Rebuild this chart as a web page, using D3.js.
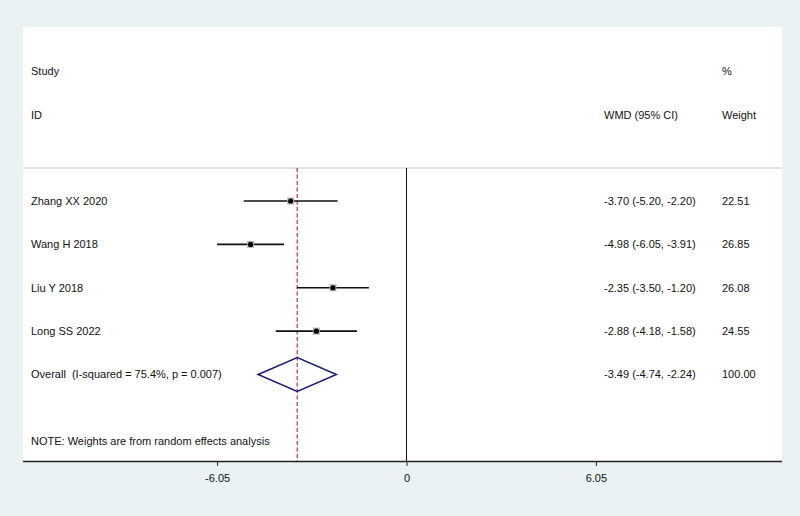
<!DOCTYPE html>
<html lang="en">
<head>
    <meta charset="UTF-8">
    <title>Forest plot</title>
    <script src="https://d3js.org/d3.v7.min.js"></script>
    <style>
        body { margin: 0; background: rgb(234, 242, 243); }
        text {
            font-family: "Liberation Sans", Arial, sans-serif;
            font-size: 11px;
            fill: #111;
            white-space: pre;
        }
        .axis path { stroke: #222; stroke-width: 1.6px; }
        .axis line { stroke: #222; stroke-width: 1px; }
        .axis text { font-size: 11px; }
    </style>
</head>
<body>
    <script>
        // Study data
        const studies = ["Zhang XX 2020", "Wang H 2018", "Liu Y 2018", "Long SS 2022"];
        const wmd = [-3.70, -4.98, -2.35, -2.88];
        const lower = [-5.20, -6.05, -3.50, -4.18];
        const upper = [-2.20, -3.91, -1.20, -1.58];
        const weights = [22.51, 26.85, 26.08, 24.55];

        // Pooled estimate
        const overallLabel = "Overall  (I-squared = 75.4%, p = 0.007)";
        const overall = [-3.49, -4.74, -2.24];
        const overallWeight = 100.00;

        const tickValues = [-6.05, 0, 6.05];

        const width = 800, height = 516;
        const panel = {left: 23, right: 782, top: 27, bottom: 461};

        const svg = d3.select("body")
            .append("svg")
            .attr("width", width)
            .attr("height", height);

        // white plot region
        svg.append("rect")
            .attr("x", panel.left)
            .attr("y", panel.top)
            .attr("width", panel.right - panel.left)
            .attr("height", panel.bottom - panel.top)
            .attr("fill", "white");

        const x = d3.scaleLinear()
            .domain([-6.05, 6.05])
            .range([217.1, 595.9]);

        const rows = studies.concat([overallLabel]);
        const y = d3.scalePoint()
            .domain(rows)
            .range([201, 374.5]);

        const headerLine = 168;

        // header
        svg.append("text").attr("x", 31).attr("y", 75).text("Study");
        svg.append("text").attr("x", 31).attr("y", 119).text("ID");
        svg.append("text").attr("x", 604).attr("y", 119).text("WMD (95% CI)");
        svg.append("text").attr("x", 722).attr("y", 75).text("%");
        svg.append("text").attr("x", 722).attr("y", 119).text("Weight");

        svg.append("line")
            .attr("x1", panel.left).attr("x2", panel.right)
            .attr("y1", headerLine).attr("y2", headerLine)
            .attr("stroke", "#c8c8c8")
            .attr("stroke-width", 1);

        // no-effect line
        svg.append("line")
            .attr("x1", x(0)).attr("x2", x(0))
            .attr("y1", headerLine).attr("y2", panel.bottom)
            .attr("stroke", "#111")
            .attr("stroke-width", 1);

        // pooled estimate line
        svg.append("line")
            .attr("x1", x(overall[0])).attr("x2", x(overall[0]))
            .attr("y1", headerLine).attr("y2", panel.bottom)
            .attr("stroke", "#c85a66")
            .attr("stroke-width", 1.5)
            .attr("stroke-dasharray", "4,2.5");

        const data = studies.map((s, i) => ({
            study: s, est: wmd[i], lo: lower[i], hi: upper[i], w: weights[i]
        }));

        // CI lines
        svg.selectAll("ciLine")
            .data(data)
            .enter()
            .append("line")
            .attr("x1", d => x(d.lo))
            .attr("x2", d => x(d.hi))
            .attr("y1", d => y(d.study))
            .attr("y2", d => y(d.study))
            .attr("stroke", "#111")
            .attr("stroke-width", 1.6);

        // weight boxes
        svg.selectAll("box")
            .data(data)
            .enter()
            .append("rect")
            .attr("x", d => x(d.est) - 3.5)
            .attr("y", d => y(d.study) - 3.5)
            .attr("width", 7)
            .attr("height", 7)
            .attr("fill", "#b4b4b4");

        // point estimates
        svg.selectAll("dot")
            .data(data)
            .enter()
            .append("circle")
            .attr("cx", d => x(d.est))
            .attr("cy", d => y(d.study))
            .attr("r", 2.6)
            .attr("fill", "#000");

        // labels
        svg.selectAll("studyLabel")
            .data(data)
            .enter()
            .append("text")
            .attr("x", 31)
            .attr("y", d => y(d.study))
            .attr("dy", ".35em")
            .text(d => d.study);

        const fmt = v => v.toFixed(2);
        svg.selectAll("ciLabel")
            .data(data)
            .enter()
            .append("text")
            .attr("x", 604)
            .attr("y", d => y(d.study))
            .attr("dy", ".35em")
            .text(d => `${fmt(d.est)} (${fmt(d.lo)}, ${fmt(d.hi)})`);

        svg.selectAll("wLabel")
            .data(data)
            .enter()
            .append("text")
            .attr("x", 722)
            .attr("y", d => y(d.study))
            .attr("dy", ".35em")
            .text(d => fmt(d.w));

        // overall diamond
        const oy = y(overallLabel);
        const dh = 17;
        svg.append("path")
            .attr("d", `M${x(overall[1])},${oy} L${x(overall[0])},${oy - dh} L${x(overall[2])},${oy} L${x(overall[0])},${oy + dh} Z`)
            .attr("fill", "none")
            .attr("stroke", "#1c1c78")
            .attr("stroke-width", 1.5);

        svg.append("text").attr("x", 31).attr("y", oy).attr("dy", ".35em").text(overallLabel);
        svg.append("text").attr("x", 604).attr("y", oy).attr("dy", ".35em")
            .text(`${fmt(overall[0])} (${fmt(overall[1])}, ${fmt(overall[2])})`);
        svg.append("text").attr("x", 722).attr("y", oy).attr("dy", ".35em").text(fmt(overallWeight));

        svg.append("text")
            .attr("x", 31).attr("y", 441).attr("dy", ".35em")
            .text("NOTE: Weights are from random effects analysis");

        // x axis
        const axis = svg.append("g")
            .attr("class", "axis")
            .attr("transform", `translate(0,${panel.bottom})`)
            .call(d3.axisBottom(x).tickValues(tickValues).tickSize(5).tickSizeOuter(0)
                .tickFormat(d => d === 0 ? "0" : d.toFixed(2)).tickPadding(8));
        axis.select(".domain")
            .attr("d", `M${panel.left},0.5H${panel.right}`);
    </script>
</body>
</html>
